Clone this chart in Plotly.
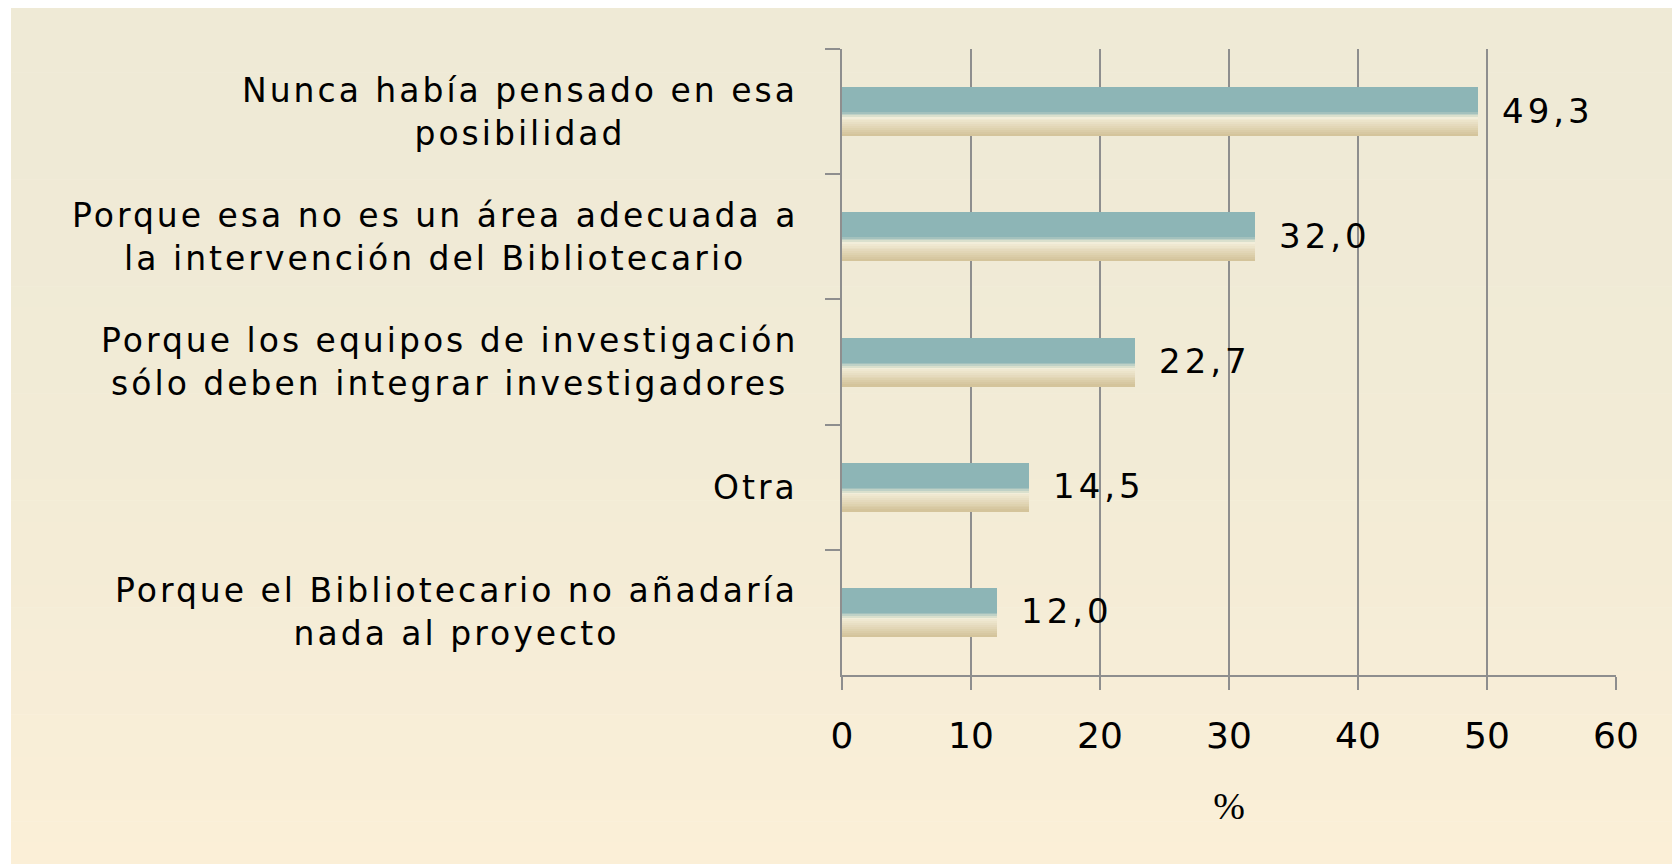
import plotly.graph_objects as go

# ---- data ----
categories = [
    "Nunca había pensado en esa<br>posibilidad",
    "Porque esa no es un área adecuada a<br>la intervención del Bibliotecario",
    "Porque los equipos de investigación<br>sólo deben integrar investigadores",
    "Otra",
    "Porque el Bibliotecario no añadaría<br>nada al proyecto",
]
values = [49.3, 32.0, 22.7, 14.5, 12.0]
x_ticks = [0, 10, 20, 30, 40, 50, 60]
x_title = "%"

W, H = 1672, 864
L, R, T, B = 842, 1616, 49, 675
BAND = (B - T) / len(categories)


def hex2rgb(h):
    h = h.lstrip("#")
    return tuple(int(h[i:i + 2], 16) for i in (0, 2, 4))


def mix(c1, c2, t):
    a, b = hex2rgb(c1), hex2rgb(c2)
    return "rgb(%d,%d,%d)" % tuple(round(a[i] + (b[i] - a[i]) * t) for i in range(3))


fig = go.Figure()

# bar made of stacked horizontal strips (px offsets from band centre, downwards)
strips = [(-24.5, 1.0, "#8DB5B6"),
          (1.0, 2.5, "#A3C1BD"),
          (2.5, 4.0, "#BFD1C6"),
          (4.0, 5.5, "#DAE0CD"),
          (5.5, 7.5, "#F2EEDA")]
n = 9
top, bot = 7.5, 24.5
for k in range(n):
    a = top + (bot - top) * k / n
    b = top + (bot - top) * (k + 1) / n
    strips.append((a, b, mix("#EFE8D1", "#D4C49B", k / (n - 1))))

for a, b, col in strips:
    fig.add_trace(go.Bar(
        x=values, y=categories, orientation="h",
        width=(b - a) / BAND, offset=a / BAND,
        marker=dict(color=col, line=dict(width=0)),
        hoverinfo="skip", showlegend=False,
    ))

# value labels
for cat, v in zip(categories, values):
    fig.add_annotation(
        x=v, y=cat, xref="x", yref="y", xanchor="left", yanchor="middle",
        xshift=22, yshift=1, showarrow=False,
        text="<span style='letter-spacing:4px'>%s</span>" % ("%.1f" % v).replace(".", ","),
        font=dict(family="DejaVu Sans", size=34, color="#000000"),
    )

# category labels (centre-aligned blocks, right edge near axis)
for cat in categories:
    lines = cat.split("<br>")
    txt = "<br>".join("<span style='letter-spacing:3px'>%s</span>" % ln for ln in lines)
    fig.add_annotation(
        x=0, y=cat, xref="x", yref="y", xanchor="right", yanchor="middle",
        xshift=-42, showarrow=False, align="center", text=txt,
        font=dict(family="DejaVu Sans", size=33, color="#000000"),
    )

# background gradient
shapes = []
steps = 40
y0px, y1px = 8, H
for k in range(steps):
    pa = y0px + (y1px - y0px) * k / steps
    pb = y0px + (y1px - y0px) * (k + 1) / steps + 0.5
    t = (k / (steps - 1)) ** 2
    shapes.append(dict(
        type="rect", xref="paper", yref="paper", layer="below",
        x0=(11 - L) / (R - L), x1=(W - L) / (R - L) + 0.01,
        y0=(B - pb) / (B - T), y1=(B - pa) / (B - T),
        fillcolor=mix("#EFEAD6", "#FBEFD7", t), line=dict(width=0),
    ))

grid = "#8E8E8E"
fig.update_layout(
    width=W, height=H,
    margin=dict(l=L, r=W - R, t=T, b=H - B, pad=0),
    paper_bgcolor="white", plot_bgcolor="rgba(0,0,0,0)",
    barmode="overlay", bargap=0,
    shapes=shapes,
    xaxis=dict(
        range=[0, 60], tickvals=x_ticks, ticktext=[str(t) for t in x_ticks],
        showgrid=True, gridcolor=grid, gridwidth=2,
        showline=True, linecolor=grid, linewidth=2,
        ticks="outside", ticklen=13, tickwidth=2, tickcolor=grid,
        tickfont=dict(family="DejaVu Sans", size=36, color="#000000"),
        ticklabelstandoff=15,
        zeroline=False, layer="above traces",
        title=dict(text=x_title, standoff=37,
                   font=dict(family="Liberation Serif", size=38, color="#000000")),
        fixedrange=True,
    ),
    yaxis=dict(
        type="category", categoryorder="array", categoryarray=categories,
        range=[len(categories) - 0.5, -0.5],
        showticklabels=False, showgrid=False,
        showline=True, linecolor=grid, linewidth=2,
        ticks="outside", tickson="boundaries", ticklen=15, tickwidth=2, tickcolor=grid,
        zeroline=False, layer="above traces", fixedrange=True,
    ),
)

fig.write_html("out.html", config={"displayModeBar": False},
               post_script="document.body.style.margin='0';")
